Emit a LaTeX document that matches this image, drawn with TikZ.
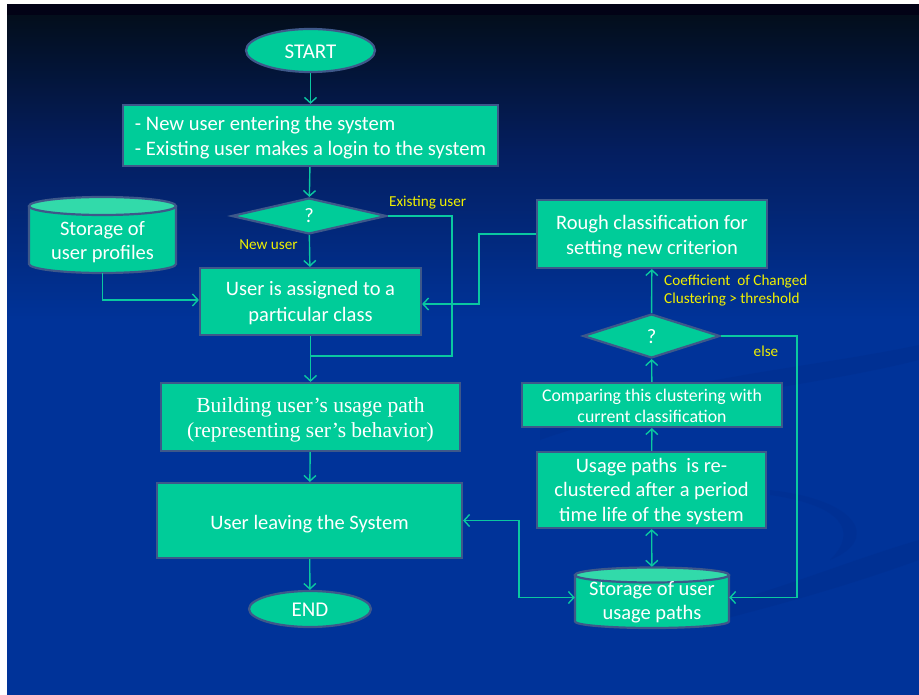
\documentclass[tikz,border=0pt]{standalone}
\usepackage{fontspec}
\setmainfont{Carlito}
\newfontfamily\serifbox{Liberation Serif}
\usetikzlibrary{shapes.geometric,arrows.meta,calc}
\definecolor{tealfill}{RGB}{0,204,153}
\definecolor{tealtop}{RGB}{50,218,170}
\definecolor{bordercol}{RGB}{62,88,138}
\definecolor{linecol}{RGB}{10,200,160}
\definecolor{lblcol}{RGB}{240,240,0}
\definecolor{bgblue}{RGB}{0,51,153}
\definecolor{bgmid}{RGB}{4,30,95}
\definecolor{bgdark}{RGB}{3,14,28}
\definecolor{bgblack}{RGB}{2,2,22}
\definecolor{swoosh}{RGB}{0,45,140}
\begin{document}
\begin{tikzpicture}[x=1pt,y=-1pt,
  proc/.style={rectangle, fill=tealfill, draw=bordercol, line width=2.2pt, text=white,
    font=\fontsize{20.5}{25}\selectfont, align=center, inner sep=0pt},
  term/.style={ellipse, fill=tealfill, draw=bordercol, line width=2.2pt, text=white,
    font=\fontsize{21}{25}\selectfont, inner sep=0pt},
  dec/.style={diamond, fill=tealfill, draw=bordercol, line width=2.2pt, text=white,
    font=\fontsize{20.5}{25}\selectfont, inner sep=0pt},
  cyltext/.style={text=white, font=\fontsize{20.5}{24}\selectfont, align=center, inner sep=0pt},
  anchorbox/.style={inner sep=0pt, draw=none},
  conn/.style={draw=linecol, line width=1.4pt, -{Straight Barb[length=5.5pt,width=12pt]}},
  dconn/.style={draw=linecol, line width=1.4pt, {Straight Barb[length=5.5pt,width=12pt]}-{Straight Barb[length=5.5pt,width=12pt]}},
  plain/.style={draw=linecol, line width=1.4pt},
  lbl/.style={text=lblcol, font=\fontsize{15.2}{18}\selectfont, inner sep=0pt, align=left},
  cylbody/.style={draw=bordercol, line width=2.2pt}
]
\useasboundingbox (0,0) rectangle (919,695);
% background
\fill[white] (0,0) rectangle (919,695);
\fill[bgblack] (7,4) rectangle (919,16);
\shade[top color=bgdark, bottom color=bgmid] (7,16) rectangle (919,150);
\shade[top color=bgmid, bottom color=bgblue] (7,150) rectangle (919,320);
\fill[bgblue] (7,320) rectangle (919,695);
% faint swooshes
\fill[swoosh, opacity=0.4] (540,430) .. controls (650,380) and (800,370) .. (919,345) -- (919,360) .. controls (800,390) and (650,400) .. (540,440) -- cycle;
\fill[swoosh, opacity=0.4] (700,610) .. controls (780,590) and (850,560) .. (919,540) -- (919,560) .. controls (850,585) and (780,605) .. (700,625) -- cycle;
\fill[swoosh, opacity=0.35] (770,490) .. controls (860,500) and (880,540) .. (830,560) .. controls (860,530) and (840,505) .. (770,495) -- cycle;

% cylinders (drawn shapes)
\fill[tealfill] (29,206) -- (29,264) arc[start angle=180,end angle=0,x radius=73.5,y radius=9] -- (176,206) -- cycle;
\draw[cylbody] (29,206) -- (29,264) arc[start angle=180,end angle=0,x radius=73.5,y radius=9] -- (176,206);
\draw[cylbody, fill=tealtop] (102.5,206) ellipse [x radius=73.5, y radius=9];
\node[anchorbox, minimum width=147pt, minimum height=76pt] (sp) at (102.5,235) {};
\node[cyltext, text height=37pt, text depth=0pt] (spt) at (102.5,241.5) {Storage of\\user profiles};

\fill[tealfill] (575,575) -- (575,621.5) arc[start angle=180,end angle=0,x radius=77,y radius=6.5] -- (729,575) -- cycle;
\draw[cylbody] (575,575) -- (575,621.5) arc[start angle=180,end angle=0,x radius=77,y radius=6.5] -- (729,575);
\draw[cylbody, fill=tealtop] (652,575) ellipse [x radius=77, y radius=7.5];
\node[anchorbox, minimum width=154pt, minimum height=61pt] (sp2) at (652,597.5) {};
\node[cyltext, text height=37pt, text depth=0pt] (sp2t) at (652,600.5) {Storage of user\\usage paths};

% left column
\node[term, minimum width=129pt, minimum height=43pt, text height=16pt, text depth=0pt] (start) at (310.5,50.5) {START};
\node[proc, minimum width=375pt, minimum height=61pt, align=left, font=\fontsize{20.6}{25}\selectfont, text height=41pt, text depth=0pt] (b1) at (310.5,135.5) {- New user entering the system\\- Existing user makes a login to the system};
\node[dec, minimum width=155pt, minimum height=36pt, text height=14pt, text depth=0pt] (d1) at (309,216) {?};
\node[proc, minimum width=221pt, minimum height=67pt, text height=39pt, text depth=0pt] (b2) at (310.5,301.5) {User is assigned to a\\particular class};
\node[proc, minimum width=299pt, minimum height=68pt, font=\serifbox\fontsize{21.5}{25}\selectfont, text height=40pt, text depth=0pt] (b3) at (310.5,417) {Building user’s usage path\\(representing ser’s behavior)};
\node[proc, minimum width=305pt, minimum height=75pt, text height=17pt, text depth=0pt] (b4) at (309.5,520.5) {User leaving the System};
\node[term, minimum width=122pt, minimum height=36pt, text height=14pt, text depth=0pt] (end) at (310,609) {END};

% right column
\node[proc, minimum width=230pt, minimum height=68pt, text height=42pt, text depth=0pt] (rough) at (652,234) {Rough classification for\\setting new criterion};
\node[dec, minimum width=137pt, minimum height=44pt, text height=16pt, text depth=0pt] (d2) at (651.5,336) {?};
\node[proc, minimum width=260pt, minimum height=44pt, font=\fontsize{17.8}{21}\selectfont, text height=34pt, text depth=0pt] (comp) at (652,405) {Comparing this clustering with\\current classification};
\node[proc, minimum width=229pt, minimum height=76pt, font=\fontsize{20.5}{24.5}\selectfont, text height=62pt, text depth=0pt] (usage) at (651.5,490) {Usage paths~\ is re-\\clustered after a period\\time life of the system};

% labels
\node[lbl, anchor=west] (lex) at (389,203) {Existing user};
\node[lbl] (lnew) at (268.5,245) {New user};
\node[lbl, anchor=west] (lcoef) at (664,291) {Coefficient~\ of Changed\\Clustering > threshold};
\node[lbl] (lelse) at (766,351) {else};

% coordinates
\coordinate (j1) at (452,356);
\coordinate (j2) at (310,356);
\coordinate (r1) at (479,304);
\coordinate (e1) at (797,597.5);
\coordinate (m1) at (519,560);

% connectors
\draw[conn] (start) -- (b1);
\draw[conn] (b1) -- (d1);
\draw[conn] (d1) -- (b2);
\draw[plain] (d1.east) -| (j1) -- (j2);
\draw[conn] (sp.south) |- ($(b2.west)+(0,-1.5)$);
\draw[conn] (rough.west) -| (r1) -- (r1 -| b2.east);
\draw[conn] (b2) -- (b3);
\draw[conn] (b3) -- (b4);
\draw[conn] (b4) -- (end);
\draw[conn] (d2) -- (rough);
\draw[conn] (d2.east) -| (e1) -- (sp2.east);
\draw[conn] (comp) -- (d2);
\draw[conn] (usage) -- (comp);
\draw[dconn] (usage) -- (sp2);
\draw[dconn] (b4.east) -| (m1) |- (sp2.west);
\end{tikzpicture}
\end{document}
